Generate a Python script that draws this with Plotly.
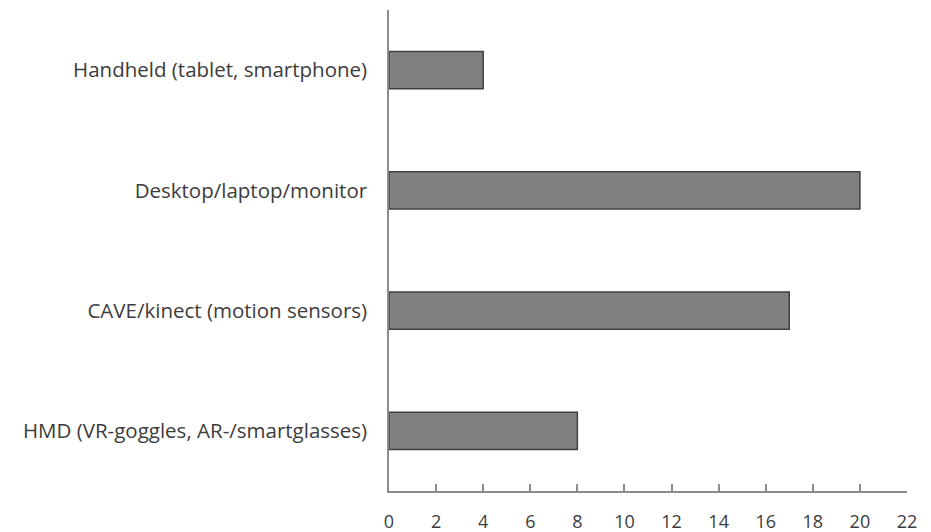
import plotly.graph_objects as go

categories = [
    "HMD (VR-goggles, AR-/smartglasses)",
    "CAVE/kinect (motion sensors)",
    "Desktop/laptop/monitor",
    "Handheld (tablet, smartphone)",
]
values = [8, 17, 20, 4]
x_ticks = list(range(0, 23, 2))

FONT = "Open Sans"
TEXT_COLOR = "#3c3c3c"
AXIS_COLOR = "#8c8c8c"

fig = go.Figure(
    go.Bar(
        y=categories,
        x=values,
        orientation="h",
        marker=dict(color="#808080", line=dict(color="#404040", width=1.5)),
        width=0.31,
    )
)

# page is rendered with an 8px body offset, so the figure is sized to fit
fig.update_layout(
    width=923,
    height=524,
    margin=dict(l=381, r=24, t=2, b=41, autoexpand=False),
    paper_bgcolor="white",
    plot_bgcolor="white",
    showlegend=False,
    font=dict(family=FONT, size=18, color=TEXT_COLOR),
)

fig.update_xaxes(
    range=[0, 22],
    tickvals=x_ticks,
    ticktext=[str(v) for v in x_ticks],
    tickfont=dict(size=18),
    showgrid=False,
    zeroline=False,
    showline=True,
    linecolor=AXIS_COLOR,
    linewidth=1.5,
    ticks="inside",
    ticklen=7,
    tickwidth=1.5,
    tickcolor=AXIS_COLOR,
    ticklabelstandoff=14,
    automargin=False,
    fixedrange=True,
)

fig.update_yaxes(
    categoryorder="array",
    categoryarray=categories,
    range=[-0.5, 3.5],
    tickfont=dict(size=20.5),
    showgrid=False,
    zeroline=False,
    showline=True,
    linecolor=AXIS_COLOR,
    linewidth=1.5,
    ticks="",
    ticklabelstandoff=16,
    automargin=False,
    fixedrange=True,
)

fig.write_html("out.html")
